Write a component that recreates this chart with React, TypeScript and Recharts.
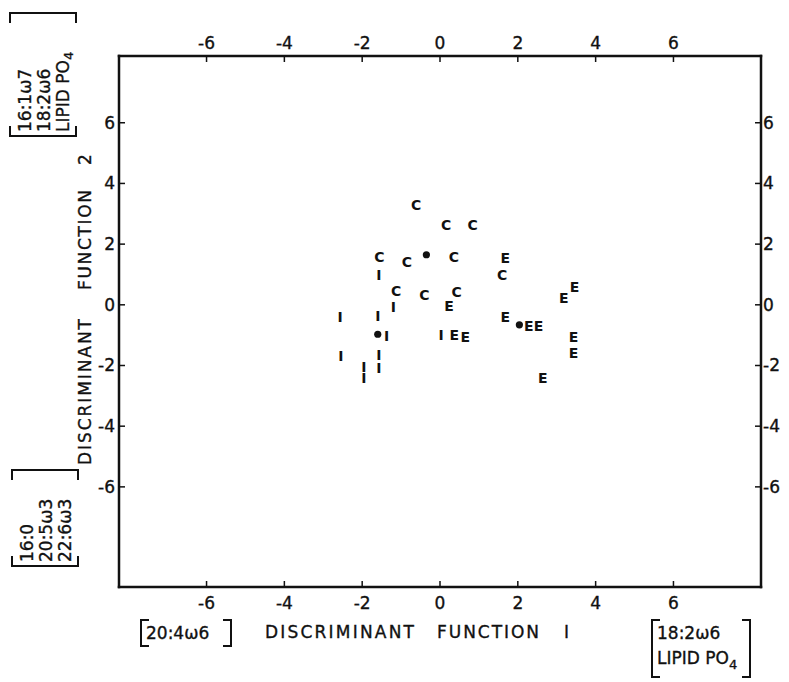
import React from "react";
import { ScatterChart, Scatter, XAxis, YAxis } from "recharts";

// discriminant scores (function 1, function 2)
const cPoints = [
  { x: -0.61, y: 3.3 },
  { x: 0.16, y: 2.64 },
  { x: 0.84, y: 2.64 },
  { x: -1.56, y: 1.59 },
  { x: -0.85, y: 1.4 },
  { x: 0.36, y: 1.57 },
  { x: 1.6, y: 0.97 },
  { x: -1.13, y: 0.46 },
  { x: -0.4, y: 0.33 },
  { x: 0.43, y: 0.42 },
];

const iPoints = [
  { x: -1.57, y: 0.97 },
  { x: -1.2, y: -0.08 },
  { x: -2.57, y: -0.39 },
  { x: -1.6, y: -0.36 },
  { x: -1.37, y: -1.02 },
  { x: 0.03, y: -1.01 },
  { x: -2.55, y: -1.68 },
  { x: -1.57, y: -1.65 },
  { x: -1.57, y: -2.09 },
  { x: -1.96, y: -2.04 },
  { x: -1.96, y: -2.42 },
];

const ePoints = [
  { x: 1.68, y: 1.56 },
  { x: 0.23, y: -0.05 },
  { x: 1.68, y: -0.39 },
  { x: 2.28, y: -0.71 },
  { x: 2.53, y: -0.71 },
  { x: 3.18, y: 0.22 },
  { x: 3.46, y: 0.58 },
  { x: 3.43, y: -1.05 },
  { x: 3.43, y: -1.59 },
  { x: 2.64, y: -2.42 },
  { x: 0.37, y: -0.99 },
  { x: 0.65, y: -1.07 },
];

const centroids = [
  { x: -0.35, y: 1.65 },
  { x: -1.6, y: -0.97 },
  { x: 2.04, y: -0.66 },
];

const axisTicks = [-6, -4, -2, 0, 2, 4, 6];
const xDomain = [-8.25, 8.25];
const yDomain = [-9.3, 8.2];

const FONT = "'DejaVu Sans', 'Liberation Sans', Arial, sans-serif";
const INK = "#111";
const axisLine = { stroke: INK, strokeWidth: 2.5, strokeLinecap: "square" as const };
// a hair of stroke makes the lettering look like the inked original
const inked = { stroke: INK, strokeWidth: 0.35 };

const BottomTick = ({ x, y, payload }: any) => (
  <g>
    <line x1={x} y1={y} x2={x} y2={y - 6} stroke={INK} strokeWidth={1.5} />
    <text x={x} y={y + 22} textAnchor="middle" fontSize={17} fontFamily={FONT} fill={INK} {...inked}>
      {payload.value}
    </text>
  </g>
);

const TopTick = ({ x, y, payload }: any) => (
  <g>
    <line x1={x} y1={y} x2={x} y2={y + 6} stroke={INK} strokeWidth={1.5} />
    <text x={x} y={y - 7} textAnchor="middle" fontSize={17} fontFamily={FONT} fill={INK} {...inked}>
      {payload.value}
    </text>
  </g>
);

const LeftTick = ({ x, y, payload }: any) => (
  <g>
    <line x1={x} y1={y} x2={x + 6} y2={y} stroke={INK} strokeWidth={1.5} />
    <text x={x - 4} y={y + 6} textAnchor="end" fontSize={17} fontFamily={FONT} fill={INK} {...inked}>
      {payload.value}
    </text>
  </g>
);

const RightTick = ({ x, y, payload }: any) => (
  <g>
    <line x1={x} y1={y} x2={x - 6} y2={y} stroke={INK} strokeWidth={1.5} />
    <text x={x + 2} y={y + 6} textAnchor="start" fontSize={17} fontFamily={FONT} fill={INK} {...inked}>
      {payload.value}
    </text>
  </g>
);

const letter = (ch: string) => (props: any) => (
  <text
    x={props.cx}
    y={props.cy}
    dy="0.36em"
    textAnchor="middle"
    fontSize={14}
    fontWeight="bold"
    fontFamily={FONT}
    fill={INK}
  >
    {ch}
  </text>
);

const Dot = (props: any) => <circle cx={props.cx} cy={props.cy} r={3.6} fill={INK} />;

const Bracket = ({ x1, x2, y, dir }: { x1: number; x2: number; y: number; dir: number }) => (
  <path
    d={`M${x1},${y + dir * 10} L${x1},${y} L${x2},${y} L${x2},${y + dir * 10}`}
    fill="none"
    stroke={INK}
    strokeWidth={2}
  />
);

const VBracket = ({ x, y1, y2, dir }: { x: number; y1: number; y2: number; dir: number }) => (
  <path
    d={`M${x + dir * 8},${y1} L${x},${y1} L${x},${y2} L${x + dir * 8},${y2}`}
    fill="none"
    stroke={INK}
    strokeWidth={2}
  />
);

const Annotations = () => (
  <svg
    width={789}
    height={682}
    style={{ position: "absolute", left: 0, top: 0, pointerEvents: "none" }}
    fontFamily={FONT}
    fill={INK}
  >
    <g {...inked}>
      {/* upper-left variables */}
      <g transform="translate(0,132) rotate(-90)" fontSize={17}>
        <text x={0} y={31}>16:1ω7</text>
        <text x={0} y={50}>18:2ω6</text>
        <text x={0} y={69}>
          LIPID PO<tspan fontSize={13} dy={4}>4</tspan>
        </text>
      </g>

      {/* lower-left variables */}
      <g transform="translate(0,562) rotate(-90)" fontSize={17}>
        <text x={0} y={33}>16:0</text>
        <text x={0} y={52}>20:5ω3</text>
        <text x={0} y={71}>22:6ω3</text>
      </g>

      {/* y axis title */}
      <g transform="translate(0,465) rotate(-90)" fontSize={17}>
        <text x={0} y={91} textLength={146}>DISCRIMINANT</text>
        <text x={175} y={91} textLength={100}>FUNCTION</text>
        <text x={300} y={91}>2</text>
      </g>

      {/* x axis title */}
      <text x={265} y={638} fontSize={17} textLength={149}>DISCRIMINANT</text>
      <text x={437} y={638} fontSize={17} textLength={102}>FUNCTION</text>
      <text x={564} y={638} fontSize={17}>I</text>

      <text x={146} y={639} fontSize={17}>20:4ω6</text>
      <text x={657} y={639} fontSize={17}>18:2ω6</text>
      <text x={657} y={664} fontSize={17}>
        LIPID PO<tspan fontSize={13} dy={5}>4</tspan>
      </text>
    </g>

    <Bracket x1={10} x2={76} y={13} dir={1} />
    <Bracket x1={10} x2={76} y={136} dir={-1} />
    <Bracket x1={12} x2={78} y={470} dir={1} />
    <Bracket x1={12} x2={78} y={566} dir={-1} />
    <VBracket x={141} y1={620} y2={646} dir={1} />
    <VBracket x={231} y1={620} y2={646} dir={-1} />
    <VBracket x={652} y1={620} y2={677} dir={1} />
    <VBracket x={750} y1={620} y2={677} dir={-1} />
  </svg>
);

export default function App() {
  return (
    <div style={{ position: "absolute", left: 0, top: 0, width: 789, height: 682, background: "#fff" }}>
      <ScatterChart width={789} height={682} margin={{ top: 0, right: 0, bottom: 0, left: 0 }}>
        <XAxis
          xAxisId="b"
          type="number"
          dataKey="x"
          orientation="bottom"
          domain={xDomain}
          ticks={axisTicks}
          interval={0}
          allowDataOverflow
          height={95}
          axisLine={axisLine}
          tickLine={false}
          tickSize={0}
          tickMargin={0}
          tick={<BottomTick />}
        />
        <XAxis
          xAxisId="t"
          type="number"
          dataKey="x"
          orientation="top"
          domain={xDomain}
          ticks={axisTicks}
          interval={0}
          allowDataOverflow
          height={56}
          axisLine={axisLine}
          tickLine={false}
          tickSize={0}
          tickMargin={0}
          tick={<TopTick />}
        />
        <YAxis
          yAxisId="l"
          type="number"
          dataKey="y"
          orientation="left"
          domain={yDomain}
          ticks={axisTicks}
          interval={0}
          allowDataOverflow
          width={119}
          axisLine={axisLine}
          tickLine={false}
          tickSize={0}
          tickMargin={0}
          tick={<LeftTick />}
        />
        <YAxis
          yAxisId="r"
          type="number"
          dataKey="y"
          orientation="right"
          domain={yDomain}
          ticks={axisTicks}
          interval={0}
          allowDataOverflow
          width={28}
          axisLine={axisLine}
          tickLine={false}
          tickSize={0}
          tickMargin={0}
          tick={<RightTick />}
        />
        <Scatter name="C" data={cPoints} xAxisId="b" yAxisId="l" shape={letter("C")} isAnimationActive={false} />
        <Scatter name="I" data={iPoints} xAxisId="b" yAxisId="l" shape={letter("I")} isAnimationActive={false} />
        <Scatter name="E" data={ePoints} xAxisId="b" yAxisId="l" shape={letter("E")} isAnimationActive={false} />
        <Scatter name="centroid" data={centroids} xAxisId="t" yAxisId="r" shape={Dot} isAnimationActive={false} />
      </ScatterChart>
      <Annotations />
    </div>
  );
}
